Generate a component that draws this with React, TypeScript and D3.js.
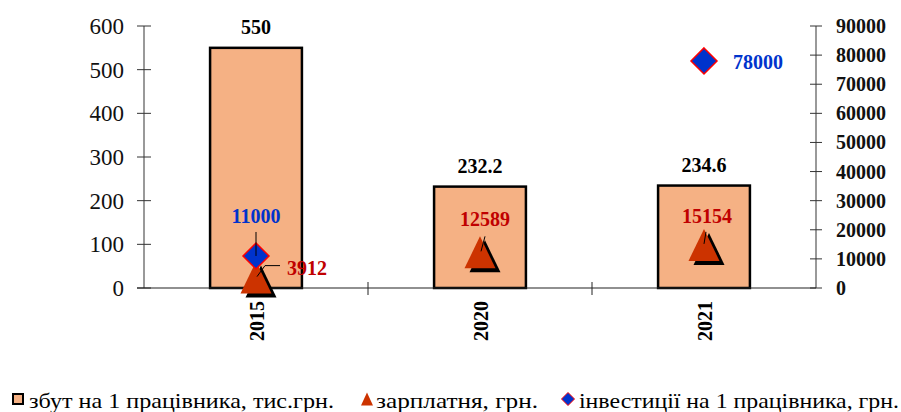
import { useEffect, useRef } from "react";
import * as d3 from "d3";

// chart data
const years = ["2015", "2020", "2021"];
const sales = [550, 232.2, 234.6]; // збут на 1 працівника, тис.грн.
const salary = [3912, 12589, 15154]; // зарплатня, грн.
const investment = [11000, null, 78000]; // інвестиції на 1 працівника, грн.
const leftTicks = [0, 100, 200, 300, 400, 500, 600];
const rightTicks = [0, 10000, 20000, 30000, 40000, 50000, 60000, 70000, 80000, 90000];

const W = 901;
const H = 412;
const FONT = "Liberation Serif, Times New Roman, serif";
const BAR_FILL = "#f5b184";
const TRI_FILL = "#cc3300";
const RED_TXT = "#c00000";
const BLUE = "#0033cc";

export default function App() {
  const svgRef = useRef<SVGSVGElement>(null);

  useEffect(() => {
    if (!svgRef.current) return;
    const svg = d3.select(svgRef.current);
    svg.selectAll("*").remove();

    const left = 144, right = 816, top = 26, bottom = 288;

    const x = d3.scaleBand<string>().domain(years).range([left, right]).padding(0);
    const yL = d3.scaleLinear().domain([0, 600]).range([bottom, top]);
    const yR = d3.scaleLinear().domain([0, 90000]).range([bottom, top]);
    const cx = (i: number) => (x(years[i]) as number) + x.bandwidth() / 2;
    const barW = x.bandwidth() * 0.41;

    // left axis
    svg.append("line")
      .attr("x1", left).attr("x2", left).attr("y1", top).attr("y2", bottom)
      .attr("stroke", "#555").attr("stroke-width", 1.2);
    leftTicks.forEach(t => {
      svg.append("line")
        .attr("x1", left - 7).attr("x2", left + 7)
        .attr("y1", yL(t)).attr("y2", yL(t))
        .attr("stroke", "#333").attr("stroke-width", 1);
      svg.append("text")
        .attr("x", left - 20).attr("y", yL(t) + 8)
        .attr("text-anchor", "end")
        .attr("font-family", FONT).attr("font-size", 23).attr("fill", "#111")
        .text(t);
    });

    // right axis
    svg.append("line")
      .attr("x1", right).attr("x2", right).attr("y1", top).attr("y2", bottom)
      .attr("stroke", "#555").attr("stroke-width", 1.2);
    rightTicks.forEach(t => {
      svg.append("line")
        .attr("x1", right - 6).attr("x2", right + 6)
        .attr("y1", yR(t)).attr("y2", yR(t))
        .attr("stroke", "#333").attr("stroke-width", 1);
      svg.append("text")
        .attr("x", right + 20).attr("y", yR(t) + 7)
        .attr("text-anchor", "start")
        .attr("font-family", FONT).attr("font-size", 20).attr("font-weight", "bold")
        .attr("fill", "#111")
        .text(t);
    });

    // bars
    sales.forEach((v, i) => {
      svg.append("rect")
        .attr("x", cx(i) - barW / 2).attr("y", yL(v))
        .attr("width", barW).attr("height", bottom - yL(v))
        .attr("fill", BAR_FILL).attr("stroke", "#000").attr("stroke-width", 2.5);
      svg.append("text")
        .attr("x", cx(i)).attr("y", yL(v) - 14)
        .attr("text-anchor", "middle")
        .attr("font-family", FONT).attr("font-size", 20).attr("font-weight", "bold")
        .attr("fill", "#000")
        .text(v);
    });

    // category axis
    svg.append("line")
      .attr("x1", left - 7).attr("x2", right).attr("y1", bottom).attr("y2", bottom)
      .attr("stroke", "#222").attr("stroke-width", 1.2);
    years.slice(1).forEach(yr => {
      const tx = x(yr) as number;
      svg.append("line")
        .attr("x1", tx).attr("x2", tx).attr("y1", bottom - 6).attr("y2", bottom + 7)
        .attr("stroke", "#222").attr("stroke-width", 1);
    });
    years.forEach((yr, i) => {
      svg.append("text")
        .attr("transform", `translate(${cx(i) + 8},${bottom + 13}) rotate(-90)`)
        .attr("text-anchor", "end")
        .attr("font-family", FONT).attr("font-size", 20).attr("font-weight", "bold")
        .attr("fill", "#000")
        .text(yr);
    });

    // salary triangles with shadow
    const tri = (w: number, h: number) => `M0,${-h / 2}L${w / 2},${h / 2}L${-w / 2},${h / 2}Z`;
    salary.forEach((v, i) => {
      const px = cx(i), py = yR(v) + 1;
      svg.append("path").attr("d", tri(31, 32))
        .attr("transform", `translate(${px + 5},${py + 4})`).attr("fill", "#000");
      svg.append("path").attr("d", tri(31, 32))
        .attr("transform", `translate(${px},${py})`).attr("fill", TRI_FILL);
    });

    // investment diamonds
    const diamond = (r: number) => `M0,${-r}L${r},0L0,${r}L${-r},0Z`;
    investment.forEach((v, i) => {
      if (v == null) return;
      svg.append("path").attr("d", diamond(13))
        .attr("transform", `translate(${cx(i)},${yR(v)})`)
        .attr("fill", BLUE).attr("stroke", "#ff0000").attr("stroke-width", 1.5);
    });

    const lbl = (tx: number, ty: number, txt: string, color: string, anchor = "middle") =>
      svg.append("text")
        .attr("x", tx).attr("y", ty).attr("text-anchor", anchor)
        .attr("font-family", FONT).attr("font-size", 20).attr("font-weight", "bold")
        .attr("fill", color).text(txt);
    const leader = (pts: [number, number][]) =>
      svg.append("path").attr("d", d3.line()(pts) as string)
        .attr("fill", "none").attr("stroke", "#000").attr("stroke-width", 1);

    // investment labels
    {
      const px = cx(0), py = yR(investment[0] as number);
      leader([[px, py - 24], [px, py]]);
      lbl(px, py - 33, String(investment[0]), BLUE);
      const px2 = cx(2), py2 = yR(investment[2] as number);
      lbl(px2 + 29, py2 + 8, String(investment[2]), BLUE, "start");
    }

    // salary labels
    {
      const px = cx(0), py = yR(salary[0]);
      leader([[px + 24, py - 11], [px + 9, py - 11], [px + 1, py]]);
      lbl(px + 31, py - 2, String(salary[0]), RED_TXT, "start");
      const p1x = cx(1), p1y = yR(salary[1]);
      leader([[p1x + 5, p1y - 15], [p1x + 1, p1y]]);
      lbl(p1x + 5, p1y - 25, String(salary[1]), RED_TXT);
      const p2x = cx(2), p2y = yR(salary[2]);
      leader([[p2x + 2, p2y - 12], [p2x, p2y]]);
      lbl(p2x + 3, p2y - 21, String(salary[2]), RED_TXT);
    }

    // legend
    const ly = 400;
    const lg = svg.append("g").attr("font-family", FONT).attr("font-size", 21).attr("fill", "#000");
    lg.append("rect").attr("x", 13).attr("y", ly - 6).attr("width", 10).attr("height", 10)
      .attr("fill", BAR_FILL).attr("stroke", "#000").attr("stroke-width", 2);
    lg.append("text").attr("x", 29).attr("y", ly + 8).attr("textLength", 305)
      .attr("lengthAdjust", "spacingAndGlyphs").text("збут на 1 працівника, тис.грн.");
    lg.append("path").attr("d", tri(12, 13)).attr("transform", `translate(367,${ly - 1})`)
      .attr("fill", TRI_FILL);
    lg.append("text").attr("x", 376).attr("y", ly + 8).attr("textLength", 162)
      .attr("lengthAdjust", "spacingAndGlyphs").text("зарплатня, грн.");
    lg.append("path").attr("d", diamond(6.5)).attr("transform", `translate(568,${ly - 1})`)
      .attr("fill", BLUE).attr("stroke", "#ff0000").attr("stroke-width", 1);
    lg.append("text").attr("x", 579).attr("y", ly + 8).attr("textLength", 320)
      .attr("lengthAdjust", "spacingAndGlyphs").text("інвестиції на 1 працівника, грн.");
  }, []);

  return (
    <svg
      ref={svgRef}
      width={W}
      height={H}
      style={{ position: "absolute", left: 0, top: 0, background: "#fff" }}
    />
  );
}
